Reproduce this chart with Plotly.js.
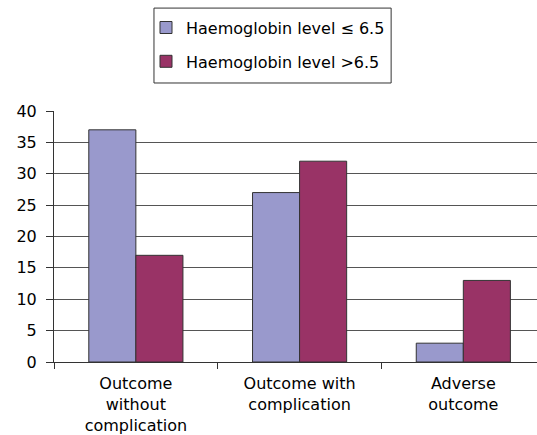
<!DOCTYPE html>
<html>
<head>
<meta charset="utf-8">
<script src="https://cdn.plot.ly/plotly-3.0.1.min.js"></script>
<style>html,body{margin:0;padding:0;background:#fff;}#chart{width:537px;height:435px;}</style>
</head>
<body>
<div id="chart"></div>
<script>
var categories = ["Outcome<br>without<br>complication", "Outcome with<br>complication", "Adverse<br>outcome"];
var seriesNames = ["Haemoglobin level \u2264 6.5", "Haemoglobin level >6.5"];
var lowHb = [37, 27, 3];
var highHb = [17, 32, 13];
var yTicks = [0, 5, 10, 15, 20, 25, 30, 35, 40];

var font = {family: "DejaVu Sans, Liberation Sans, Arial, sans-serif", size: 16, color: "#000"};
var traces = [
  {type: "bar", x: categories, y: lowHb, name: seriesNames[0], legendgroup: "a",
   marker: {color: "#9999CC", line: {color: "#333333", width: 1}}},
  {type: "bar", x: categories, y: highHb, name: seriesNames[1], legendgroup: "b",
   marker: {color: "#993366", line: {color: "#333333", width: 1}}}
];
var layout = {
  width: 537, height: 435,
  margin: {l: 54, r: 0, t: 111, b: 73},
  paper_bgcolor: "#fff", plot_bgcolor: "#fff",
  font: font,
  barmode: "group", bargap: 0.425, bargroupgap: 0,
  xaxis: {type: "category", range: [-0.5, 2.45], tickson: "boundaries",
          ticks: "outside", ticklen: 6, tickcolor: "#333", showline: true,
          linecolor: "#333", linewidth: 1, showgrid: false, tickfont: font,
          ticklabelstandoff: 7},
  yaxis: {range: [0, 40], tickvals: yTicks, ticks: "outside", ticklen: 7,
          tickcolor: "#333", showline: true, linecolor: "#333", linewidth: 1,
          showgrid: true, gridcolor: "#555", gridwidth: 1, zeroline: false,
          tickfont: font, ticklabelstandoff: 6},
  legend: {x: 0.1905, y: 1.40, xanchor: "left", yanchor: "top",
           borderwidth: 0, bgcolor: "rgba(0,0,0,0)",
           itemwidth: 30, tracegroupgap: 10, font: font},
  shapes: [{type: "rect", xref: "paper", yref: "paper",
            x0: 0.207, x1: 0.698, y0: 1.1116, y1: 1.410,
            line: {color: "#333", width: 1}, fillcolor: "rgba(0,0,0,0)"}]
};
Plotly.newPlot("chart", traces, layout, {displayModeBar: false, staticPlot: true});
</script>
</body>
</html>
